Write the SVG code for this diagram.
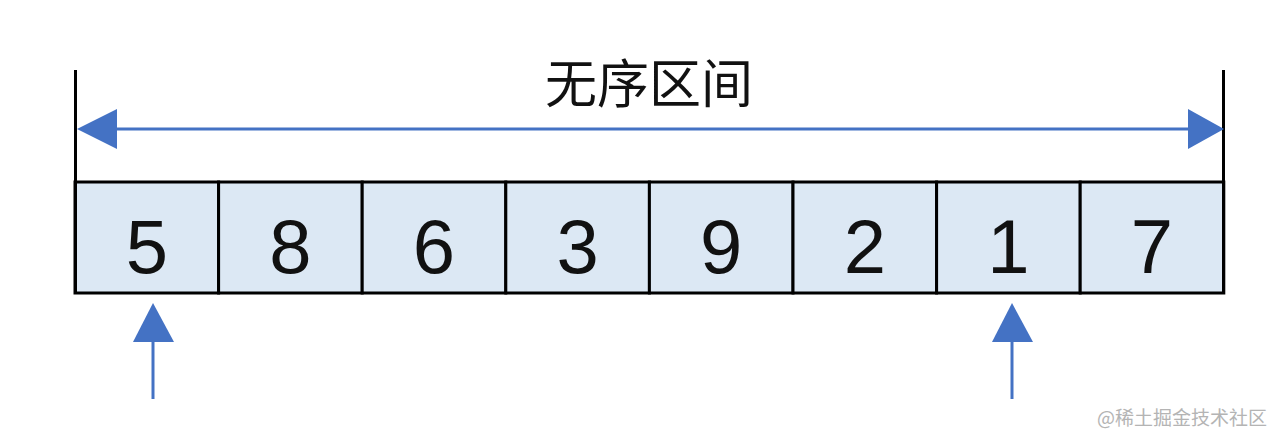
<svg xmlns="http://www.w3.org/2000/svg" width="1280" height="447" viewBox="0 0 1280 447">
<defs>
<style>
.cell{fill:#dce8f4;stroke:#000;stroke-width:3}
.num{font-family:"Liberation Sans",Arial,sans-serif;font-size:76px;fill:#111;text-anchor:middle}
.title{font-family:"Noto Sans CJK SC","Liberation Sans",sans-serif;font-size:52px;fill:#111;text-anchor:middle}
.wm{font-family:"Noto Sans CJK SC","Liberation Sans",sans-serif;font-size:19px;fill:#b4b4b4}
.blue{stroke:#4472c4;stroke-width:3;fill:none}
.head{fill:#4472c4}
.bound{stroke:#000;stroke-width:3}
</style>
</defs>
<rect width="1280" height="447" fill="#fff"/>
<g id="title"><text class="title" x="649" y="103">无序区间</text></g>
<g id="cells">
<g id="c0"><rect class="cell" x="75" y="182" width="143.6" height="111"/><text class="num" x="146.8" y="273">5</text></g>
<g id="c1"><rect class="cell" x="218.6" y="182" width="143.6" height="111"/><text class="num" x="290.4" y="273">8</text></g>
<g id="c2"><rect class="cell" x="362.2" y="182" width="143.6" height="111"/><text class="num" x="434" y="273">6</text></g>
<g id="c3"><rect class="cell" x="505.8" y="182" width="143.6" height="111"/><text class="num" x="577.6" y="273">3</text></g>
<g id="c4"><rect class="cell" x="649.4" y="182" width="143.6" height="111"/><text class="num" x="721.2" y="273">9</text></g>
<g id="c5"><rect class="cell" x="793" y="182" width="143.6" height="111"/><text class="num" x="864.8" y="273">2</text></g>
<g id="c6"><rect class="cell" x="936.6" y="182" width="143.6" height="111"/><text class="num" x="1008.4" y="273">1</text></g>
<g id="c7"><rect class="cell" x="1080.2" y="182" width="143.6" height="111"/><text class="num" x="1152" y="273">7</text></g>
</g>
<g id="connectors">
<line class="bound" x1="75.5" y1="70" x2="75.5" y2="293"/>
<line class="bound" x1="1223.5" y1="70" x2="1223.5" y2="293"/>
<line class="blue" x1="110" y1="129" x2="1192" y2="129"/>
<polygon class="head" points="77,129 117,109 117,149"/>
<polygon class="head" points="1224,129 1188,109 1188,149"/>
<line class="blue" x1="153" y1="335" x2="153" y2="399"/>
<polygon class="head" points="153,303 133,342 174,342"/>
<line class="blue" x1="1012" y1="335" x2="1012" y2="399"/>
<polygon class="head" points="1012,303 992,342 1033,342"/>
</g>
<text class="wm" x="1097" y="425">@稀土掘金技术社区</text>
</svg>
